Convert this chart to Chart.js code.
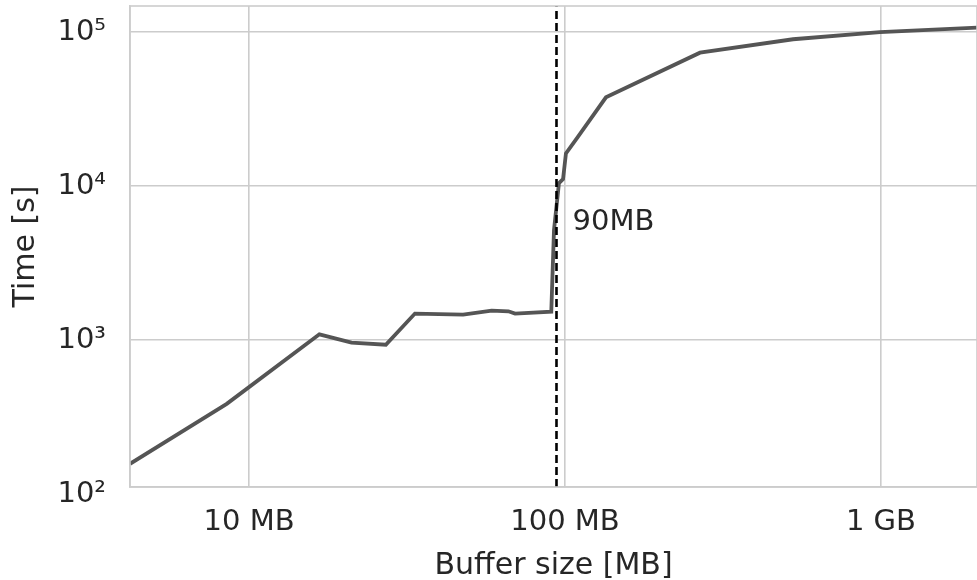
<!DOCTYPE html>
<html>
<head>
<meta charset="utf-8">
<script src="https://cdn.jsdelivr.net/npm/chart.js@4.4.1/dist/chart.umd.min.js"></script>
<style>
  html, body { margin: 0; padding: 0; background: #fff; }
  #wrap { width: 977px; height: 580px; }
</style>
</head>
<body>
<div id="wrap"><canvas id="bufferChart" width="977" height="580"></canvas></div>
<script>
// Buffer size [MB] vs. run time [s]
const bufferSizes = [4.2, 8.5, 16.7, 21.1, 27.1, 33.5, 47.6, 58.6, 66.2, 69.5, 90.5, 92.3, 95.7, 98.6, 100.7, 110, 134.8, 267.5, 527, 993, 2014];
const runTimes = [157, 385, 1089, 962, 933, 1486, 1462, 1552, 1538, 1486, 1530, 5180, 10460, 11100, 16330, 20950, 37770, 73600, 90000, 100000, 107000];

const xTicks = [10, 100, 1000];
const xTickLabels = ['10 MB', '100 MB', '1 GB'];
const yTicks = [100, 1000, 10000, 100000];
const yTickLabels = ['10²', '10³', '10⁴', '10⁵'];

const xRange = [4.2, 2014];
const yRange = [111, 148000];

const thresholdSize = 94;
const thresholdLabel = '90MB';
const thresholdLabelTime = 5830;

const textColor = '#262626';
const gridColor = '#cccccc';
const fontFamily = '"DejaVu Sans", sans-serif';

// light frame round the plot area + threshold label
const framePlugin = {
    id: 'frame',
    afterDatasetsDraw(chart) {
        const { ctx, chartArea, scales } = chart;
        ctx.save();
        ctx.strokeStyle = gridColor;
        ctx.lineWidth = 1.6;
        ctx.strokeRect(chartArea.left, chartArea.top, chartArea.right - chartArea.left, chartArea.bottom - chartArea.top);
        ctx.fillStyle = textColor;
        ctx.font = '29px ' + fontFamily;
        ctx.textAlign = 'left';
        ctx.textBaseline = 'middle';
        ctx.fillText(thresholdLabel, scales.x.getPixelForValue(thresholdSize) + 16, scales.y.getPixelForValue(thresholdLabelTime));
        ctx.restore();
    }
};

new Chart(document.getElementById('bufferChart'), {
    type: 'line',
    data: {
        datasets: [{
            data: bufferSizes.map((s, i) => ({ x: s, y: runTimes[i] })),
            borderColor: '#555555',
            borderWidth: 3.8,
            pointRadius: 0,
            tension: 0,
            order: 1
        }, {
            data: [{ x: thresholdSize, y: yRange[0] }, { x: thresholdSize, y: yRange[1] }],
            borderColor: '#000000',
            borderWidth: 2.6,
            borderDash: [8, 4],
            pointRadius: 0,
            order: 0
        }]
    },
    options: {
        responsive: false,
        animation: false,
        layout: { padding: { top: 6, right: 0, left: 0, bottom: 0 } },
        plugins: {
            legend: { display: false },
            tooltip: { enabled: false }
        },
        scales: {
            x: {
                type: 'logarithmic',
                min: xRange[0],
                max: xRange[1],
                afterBuildTicks: function(scale) {
                    scale.ticks = xTicks.map(v => ({ value: v }));
                },
                afterFit: function(scale) {
                    scale.height = 93;
                    scale.paddingLeft = 0;
                    scale.paddingRight = 0;
                },
                ticks: {
                    autoSkip: false,
                    maxRotation: 0,
                    padding: 18,
                    color: textColor,
                    font: { family: fontFamily, size: 29 },
                    callback: function(value) {
                        const i = xTicks.indexOf(value);
                        return i >= 0 ? xTickLabels[i] : '';
                    }
                },
                grid: { color: gridColor, lineWidth: 1.6, drawTicks: false },
                border: { color: gridColor, width: 1.6 },
                title: {
                    display: true,
                    text: 'Buffer size [MB]',
                    color: textColor,
                    font: { family: fontFamily, size: 30 },
                    padding: { top: 0, bottom: -4 }
                }
            },
            y: {
                type: 'logarithmic',
                min: yRange[0],
                max: yRange[1],
                afterBuildTicks: function(scale) {
                    scale.ticks = yTicks.map(v => ({ value: v }));
                },
                afterFit: function(scale) {
                    scale.width = 130;
                    scale.paddingTop = 0;
                    scale.paddingBottom = 0;
                },
                ticks: {
                    autoSkip: false,
                    padding: 24,
                    color: textColor,
                    font: { family: fontFamily, size: 29 },
                    callback: function(value) {
                        const i = yTicks.indexOf(value);
                        return i >= 0 ? yTickLabels[i] : '';
                    }
                },
                grid: {
                    drawTicks: false,
                    lineWidth: 1.6,
                    color: function(ctx) {
                        return ctx.tick && ctx.tick.value < yRange[0] ? 'rgba(0,0,0,0)' : gridColor;
                    }
                },
                border: { color: gridColor, width: 1.6 },
                title: {
                    display: true,
                    text: 'Time [s]',
                    color: textColor,
                    font: { family: fontFamily, size: 30 },
                    padding: { top: 8, bottom: 0 }
                }
            }
        }
    },
    plugins: [framePlugin]
});
</script>
</body>
</html>
